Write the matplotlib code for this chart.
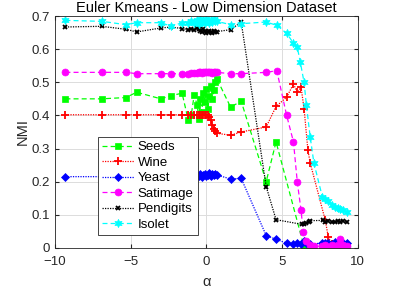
import matplotlib
matplotlib.use("Agg")
import matplotlib.pyplot as plt

plt.rcParams["font.family"] = ["Liberation Sans", "DejaVu Sans"]

# ----------------------------------------------------------
# Datos (alpha vs NMI)
# ----------------------------------------------------------
alpha_izq = [-9.3, -6.9, -5.3, -4.6, -3.0, -2.3, -1.6]
alpha_mid = [-1.2, -1.0, -0.8, -0.6, -0.5, -0.4, -0.3, -0.2, -0.1, 0.0,
             0.1, 0.2, 0.3, 0.4, 0.5, 0.6, 0.7]

seeds_alpha = alpha_izq + alpha_mid + [1.6, 2.3, 3.95, 4.6, 6.45, 6.6, 6.85,
                                       7.65, 7.85, 8.05, 8.3, 8.5, 8.7, 8.85, 9.0, 9.25]
seeds_nmi = [0.450, 0.450, 0.454, 0.470, 0.450, 0.460, 0.467,
             0.387, 0.400, 0.462, 0.430, 0.390, 0.450, 0.410, 0.467, 0.440,
             0.480, 0.420, 0.460, 0.490, 0.450, 0.477, 0.500, 0.510,
             0.425, 0.443, 0.200, 0.320, 0.003, 0.003, 0.003,
             0.003, 0.003, 0.003, 0.003, 0.003, 0.003, 0.003, 0.003, 0.003]

wine_alpha = alpha_izq + alpha_mid + [1.6, 2.3, 3.95, 4.6, 5.3, 5.75, 6.0, 6.25,
                                      6.45, 6.7, 6.85, 7.85, 8.05, 8.3, 8.5, 8.7,
                                      8.85, 9.0, 9.25]
wine_nmi = [0.402, 0.402, 0.402, 0.402, 0.402, 0.402, 0.402,
            0.402, 0.402, 0.402, 0.402, 0.402, 0.402, 0.402, 0.402, 0.402,
            0.402, 0.400, 0.395, 0.385, 0.370, 0.360, 0.352, 0.346,
            0.340, 0.350, 0.365, 0.427, 0.455, 0.495, 0.470, 0.485,
            0.420, 0.296, 0.257, 0.083, 0.032, 0.012, 0.010, 0.010,
            0.010, 0.010, 0.010]

yeast_alpha = alpha_izq + alpha_mid + [1.6, 2.3, 3.95, 4.6, 5.3, 5.75, 6.0, 6.25,
                                       6.45, 6.6, 6.85, 7.65, 7.85, 8.05, 8.3, 8.5,
                                       8.7, 8.85, 9.0, 9.25]
yeast_nmi = [0.215, 0.215, 0.215, 0.215, 0.215, 0.215, 0.215,
             0.215, 0.218, 0.214, 0.220, 0.216, 0.222, 0.215, 0.219, 0.223,
             0.217, 0.221, 0.225, 0.218, 0.222, 0.220, 0.224, 0.220,
             0.208, 0.210, 0.037, 0.026, 0.014, 0.013, 0.015, 0.012,
             0.020, 0.016, 0.012, 0.014, 0.015, 0.016, 0.012, 0.018,
             0.015, 0.013, 0.016, 0.014]

satimage_alpha = alpha_izq + alpha_mid + [1.6, 2.3, 3.95, 4.65, 5.3, 5.75, 6.0, 6.25,
                                          6.4, 6.6, 6.85, 7.1, 7.65, 7.85, 8.05, 8.3,
                                          8.5, 8.7, 8.85, 9.0, 9.25]
satimage_nmi = [0.530, 0.530, 0.530, 0.526, 0.526, 0.526, 0.526,
                0.526, 0.528, 0.528, 0.529, 0.530, 0.530, 0.529, 0.530, 0.531,
                0.530, 0.530, 0.531, 0.530, 0.529, 0.530, 0.530, 0.530,
                0.526, 0.526, 0.530, 0.535, 0.400, 0.320, 0.200, 0.113,
                0.047, 0.020, 0.010, 0.005, 0.005, 0.008, 0.004, 0.010,
                0.006, 0.008, 0.026, 0.010, 0.006]

pendigits_alpha = alpha_izq + alpha_mid + [1.6, 2.3, 3.95, 4.6, 6.3, 6.45, 6.6,
                                           6.75, 6.85, 7.7, 7.85, 8.05, 8.3, 8.5,
                                           8.7, 8.85, 9.0, 9.25]
pendigits_nmi = [0.667, 0.669, 0.660, 0.652, 0.664, 0.667, 0.662,
                 0.659, 0.662, 0.658, 0.664, 0.660, 0.656, 0.652, 0.661, 0.655,
                 0.650, 0.653, 0.656, 0.652, 0.650, 0.654, 0.651, 0.653,
                 0.659, 0.682, 0.185, 0.085, 0.071, 0.072, 0.075,
                 0.079, 0.082, 0.083, 0.078, 0.080, 0.077, 0.079,
                 0.082, 0.078, 0.080, 0.078]

isolet_alpha = alpha_izq + alpha_mid + [1.6, 2.3, 3.95, 4.65, 5.3, 5.75, 6.0, 6.2,
                                        6.45, 6.6, 6.85, 7.1, 7.65, 7.85, 8.05, 8.3,
                                        8.5, 8.7, 8.85, 9.0, 9.25]
isolet_nmi = [0.687, 0.684, 0.674, 0.680, 0.680, 0.669, 0.680,
              0.678, 0.684, 0.680, 0.688, 0.676, 0.690, 0.682, 0.686, 0.678,
              0.692, 0.684, 0.680, 0.688, 0.683, 0.690, 0.686, 0.684,
              0.674, 0.677, 0.682, 0.672, 0.648, 0.618, 0.606, 0.561,
              0.500, 0.432, 0.336, 0.256, 0.155, 0.148, 0.140, 0.130,
              0.123, 0.120, 0.118, 0.113, 0.107]

# nombre, x, y, color, estilo, marcador, tamaño, grosor borde
series = [
    ("Seeds", seeds_alpha, seeds_nmi, (0, 1, 0), "--", "s", 4.0, 0.5),
    ("Wine", wine_alpha, wine_nmi, (1, 0, 0), ":", "+", 6.0, 1.3),
    ("Yeast", yeast_alpha, yeast_nmi, (0, 0, 1), ":", "D", 4.0, 0.5),
    ("Satimage", satimage_alpha, satimage_nmi, (1, 0, 1), "--", "o", 5.0, 0.5),
    ("Pendigits", pendigits_alpha, pendigits_nmi, (0, 0, 0), ":", "x", 3.5, 1.3),
    ("Isolet", isolet_alpha, isolet_nmi, (0, 1, 1), "--", (6, 1, 0), 6.0, 0.5),
]

# ----------------------------------------------------------
# Gráfico
# ----------------------------------------------------------
fig = plt.figure(figsize=(4.09, 3.03), dpi=100)
ax = fig.add_axes([0.134, 0.182, 0.741, 0.765])

for nombre, xs, ys, color, estilo, marcador, tam, borde in series:
    dashes = (4, 2.5) if estilo == "--" else (1, 1)
    ax.plot(xs, ys, color=color, linewidth=0.9, dashes=dashes,
            marker=marcador, markersize=tam, markerfacecolor=color,
            markeredgecolor=color, markeredgewidth=borde, label=nombre)

ax.set_xlim(-10, 10)
ax.set_ylim(0, 0.7)
ax.set_xticks([-10, -5, 0, 5, 10])
ax.set_yticks([0, 0.1, 0.2, 0.3, 0.4, 0.5, 0.6, 0.7])
ax.set_yticklabels(["0", "0.1", "0.2", "0.3", "0.4", "0.5", "0.6", "0.7"])
ax.grid(True, color="#dcdcdc", linewidth=0.7)
ax.set_axisbelow(True)
ax.tick_params(direction="in", labelsize=9.5, colors="#262626", length=3,
               top=True, right=True)
ax.tick_params(axis="x", pad=6)
for lado in ax.spines.values():
    lado.set_color("#262626")
    lado.set_linewidth(0.6)

ax.set_title("Euler Kmeans - Low Dimension Dataset", fontsize=10.5,
             color="black", pad=3)
ax.set_ylabel("NMI", fontsize=10.5, color="#262626", labelpad=1)
ax.set_xlabel("α", fontsize=10.5, color="#262626", labelpad=5)

ley = ax.legend(loc="lower left", bbox_to_anchor=(0.143, 0.056),
                borderaxespad=0, fontsize=9.5, labelspacing=0.25,
                handlelength=2.4, handletextpad=0.3, borderpad=0.3,
                fancybox=False, framealpha=1, edgecolor="#262626")
ley.get_frame().set_linewidth(0.6)

fig.savefig("out.png", dpi=100)
